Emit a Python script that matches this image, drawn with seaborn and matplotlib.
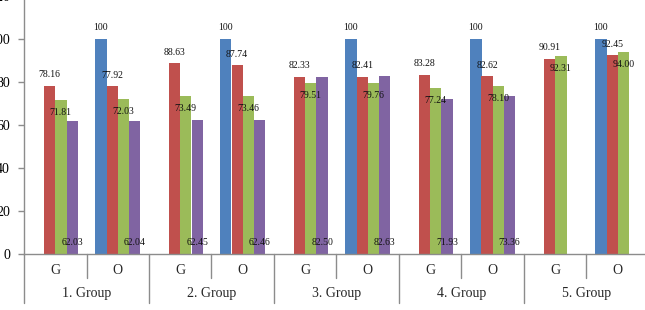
import numpy as np
import pandas as pd
import matplotlib
matplotlib.use("Agg")
import matplotlib.pyplot as plt
import seaborn as sns

# ---- data ----
groups = ["1. Group", "2. Group", "3. Group", "4. Group", "5. Group"]
subcats = ["G", "O"]
series_names = ["S1", "S2", "S3", "S4"]
s1_blue = [np.nan, 100, np.nan, 100, np.nan, 100, np.nan, 100, np.nan, 100]
s2_red = [78.16, 77.92, 88.63, 87.74, 82.33, 82.41, 83.28, 82.62, 90.91, 92.45]
s3_green = [71.81, 72.03, 73.49, 73.46, 79.51, 79.76, 77.24, 78.10, 92.31, 94.00]
s4_purple = [62.03, 62.04, 62.45, 62.46, 82.50, 82.63, 71.93, 73.36, np.nan, np.nan]
yticks = [0, 20, 40, 60, 80, 100, 120]

colors = ["#4F81BD", "#C0504D", "#9BBB59", "#8064A2"]

cat_ids = [f"{g}|{s}" for g in groups for s in subcats]
rows = []
for name, vals in zip(series_names, [s1_blue, s2_red, s3_green, s4_purple]):
    for cid, v in zip(cat_ids, vals):
        rows.append({"cat": cid, "series": name, "value": v})
df = pd.DataFrame(rows)

sns.set_style("white")
plt.rcParams["font.family"] = ["Liberation Serif", "DejaVu Serif"]

W, H, DPI = 645, 310, 100
fig = plt.figure(figsize=(W / DPI, H / DPI), dpi=DPI)
ax_left, ax_right = 24, 649
ax_top, ax_bottom = -4, 254
ax = fig.add_axes([ax_left / W, (H - ax_bottom) / H,
                   (ax_right - ax_left) / W, (ax_bottom - ax_top) / H])

sns.barplot(data=df.dropna(), x="cat", y="value", hue="series",
            order=cat_ids, hue_order=series_names, palette=colors,
            width=0.72, gap=0, errorbar=None, legend=False,
            saturation=1, linewidth=0, ax=ax)

ax.set_xlim(-0.5, len(cat_ids) - 0.5)
ax.set_ylim(0, 120)
ax.set_yticks(yticks)
ax.set_yticklabels([str(t) for t in yticks], fontsize=10)
ax.set_xticks([])
ax.set_xlabel("")
ax.set_ylabel("")

axis_col = "#8c8c8c"
for side in ["top", "right"]:
    ax.spines[side].set_visible(False)
for side in ["left", "bottom"]:
    ax.spines[side].set_color(axis_col)
    ax.spines[side].set_linewidth(1.0)
ax.tick_params(axis="y", left=True, length=4, width=1, color=axis_col, pad=6,
               labelcolor="black")

# ---- value labels ----
fmt = lambda v: "100" if v == 100 else f"{v:.2f}"
modes = ["out", "out", "inend", "inbase"]
for cont, mode in zip(ax.containers, modes):
    for p in cont.patches:
        h = p.get_height()
        if h is None or np.isnan(h) or h == 0:
            continue
        xc = p.get_x() + p.get_width() / 2
        if mode == "out":
            xy, off = (xc, h), 8
        elif mode == "inend":
            xy, off = (xc, h), -9
        else:
            xy, off = (xc, 0), 8.5
        ax.annotate(fmt(h), xy=xy, xytext=(0, off), textcoords="offset points",
                    ha="center", va="center", fontsize=7, color="#111111")

# ---- multi-level category axis ----
ax_h = ax_bottom - ax_top
trans = ax.get_xaxis_transform()
def yfrac(px_below):
    return -px_below / ax_h

for i, cid in enumerate(cat_ids):
    ax.text(i, yfrac(16), cid.split("|")[1], transform=trans, ha="center",
            va="center", fontsize=10, clip_on=False)
for gi, g in enumerate(groups):
    ax.text(2 * gi + 0.5, yfrac(39), g, transform=trans, ha="center",
            va="center", fontsize=10, clip_on=False)
    # inner separator between G and O
    ax.plot([2 * gi + 0.5] * 2, [0, yfrac(24)], transform=trans,
            color=axis_col, lw=1, clip_on=False)
    # group separator
    ax.plot([2 * gi - 0.5] * 2, [0, yfrac(49)], transform=trans,
            color=axis_col, lw=1, clip_on=False)

fig.savefig("out.png", dpi=DPI)
